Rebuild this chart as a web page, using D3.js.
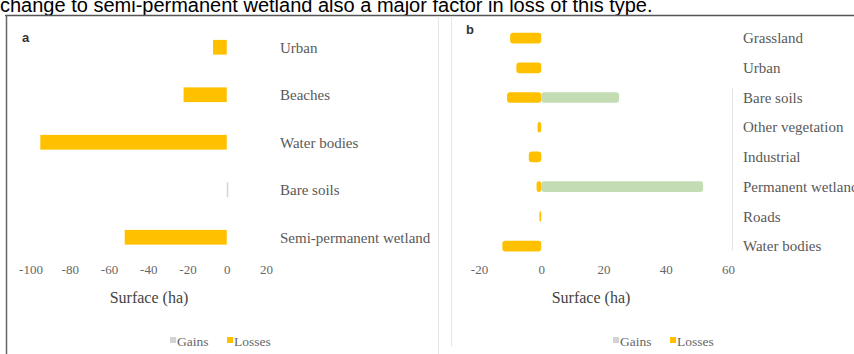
<!DOCTYPE html>
<html>
<head>
<meta charset="utf-8">
<script src="https://cdn.jsdelivr.net/npm/d3@7"></script>
<style>
  body { margin: 0; background: #fff; overflow: hidden; }
  svg { display: block; }
</style>
</head>
<body>
<script>
// panel a data
const catsA = ["Urban", "Beaches", "Water bodies", "Bare soils", "Semi-permanent wetland"];
const gainsA = [0, 0, 0, 0.8, 0];
const lossesA = [-7, -22, -95, 0, -52];
const ticksA = [-100, -80, -60, -40, -20, 0, 20];

// panel b data
const catsB = ["Grassland", "Urban", "Bare soils", "Other vegetation", "Industrial", "Permanent wetland", "Roads", "Water bodies"];
const gainsB = [0, 0, 25, 0, 0, 52, 0, 0];
const lossesB = [-10, -8, -11, -1.2, -4, -1.5, -0.6, -12.5];
const ticksB = [-20, 0, 20, 40, 60];

const legendItems = ["Gains", "Losses"];
const caption = "change to semi-permanent wetland also a major factor in loss of this type.";

const W = 854, H = 354;
const gold = "#ffc000", green = "#c3dcb3", legGrey = "#d3d3d3";
const serif = "'Liberation Serif', 'Times New Roman', 'DejaVu Serif', serif";

let svg = d3.select("body").append("svg").attr("width", W).attr("height", H);

// caption text, cut at the top like in the source
svg.append("text")
  .attr("x", 0).attr("y", 11.5)
  .style("font-family", "'Liberation Sans', Arial, sans-serif")
  .style("font-size", "20px")
  .attr("fill", "#000")
  .text(caption);

// frame lines
svg.append("line").attr("x1", 5).attr("x2", W).attr("y1", 15.5).attr("y2", 15.5)
  .attr("stroke", "#555").attr("stroke-width", 1.5);
svg.append("line").attr("x1", 6.5).attr("x2", 6.5).attr("y1", 15).attr("y2", H)
  .attr("stroke", "#666").attr("stroke-width", 1.5);
svg.append("line").attr("x1", 438.5).attr("x2", 438.5).attr("y1", 16).attr("y2", H)
  .attr("stroke", "#e6e6e6");
svg.append("line").attr("x1", 451.5).attr("x2", 451.5).attr("y1", 16).attr("y2", H - 8)
  .attr("stroke", "#e6e6e6");

function drawPanel(opt) {
  let g = svg.append("g");
  let x = d3.scaleLinear().domain(opt.domain).range(opt.xRange);
  let y = d3.scaleBand().domain(opt.cats).range(opt.yRange).paddingInner(opt.pad).paddingOuter(opt.pad / 2);

  let rows = opt.cats.map((c, i) => ({ cat: c, gain: opt.gains[i], loss: opt.losses[i] }));

  if (opt.axisLine) {
    g.append("line")
      .attr("x1", opt.axisLine.x).attr("x2", opt.axisLine.x)
      .attr("y1", opt.axisLine.y1).attr("y2", opt.axisLine.y2)
      .attr("stroke", "#e3e3e3");
  }

  // losses
  g.selectAll("rect.loss")
    .data(rows.filter(d => d.loss < 0))
    .join("rect")
    .attr("class", "loss")
    .attr("x", d => x(d.loss))
    .attr("width", d => Math.max(1.5, x(0) - x(d.loss)))
    .attr("y", d => y(d.cat))
    .attr("height", y.bandwidth())
    .attr("rx", opt.rx).attr("ry", opt.rx)
    .attr("fill", gold);

  // gains
  g.selectAll("rect.gain")
    .data(rows.filter(d => d.gain > 0))
    .join("rect")
    .attr("class", "gain")
    .attr("x", x(0))
    .attr("width", d => Math.max(1.5, x(d.gain) - x(0)))
    .attr("y", d => y(d.cat))
    .attr("height", y.bandwidth())
    .attr("rx", opt.rx).attr("ry", opt.rx)
    .attr("fill", opt.gainColor);

  // category labels
  g.selectAll("text.catlabel")
    .data(opt.cats)
    .join("text")
    .attr("class", "catlabel")
    .attr("x", opt.labelX)
    .attr("y", d => y(d) + y.bandwidth() / 2)
    .attr("dy", "0.35em")
    .style("font-family", serif)
    .style("font-size", "15px")
    .attr("fill", "#595959")
    .text(d => d);

  // x axis tick labels (plain hyphen minus like the source)
  let axis = d3.axisBottom(x).tickValues(opt.ticks).tickSize(0).tickPadding(0)
    .tickFormat(d => String(d));
  let ax = g.append("g").attr("transform", `translate(0,${opt.tickY})`).call(axis);
  ax.select(".domain").remove();
  ax.selectAll("text")
    .attr("fill", "#666")
    .style("font-family", serif)
    .style("font-size", "13px");

  g.append("text")
    .attr("x", opt.titleX).attr("y", opt.titleY)
    .attr("text-anchor", "middle")
    .style("font-family", serif)
    .style("font-size", "16px")
    .attr("fill", "#444")
    .text("Surface (ha)");

  // panel letter
  g.append("text")
    .attr("x", opt.letterX).attr("y", opt.letterY)
    .style("font-family", "'Liberation Sans', Arial, sans-serif")
    .style("font-size", "13px")
    .style("font-weight", "bold")
    .attr("fill", "#333")
    .text(opt.letter);

  // legend
  let lg = g.append("g").attr("transform", `translate(${opt.legX},${opt.legY})`);
  let legColors = [legGrey, gold];
  let offsets = [0, 57];
  legendItems.forEach((name, i) => {
    lg.append("rect").attr("x", offsets[i]).attr("y", -4).attr("width", 6).attr("height", 6)
      .attr("fill", legColors[i]);
    lg.append("text")
      .attr("x", offsets[i] + 7).attr("y", 0).attr("dy", "0.35em")
      .style("font-family", serif)
      .style("font-size", "13.5px")
      .attr("fill", "#666")
      .text(name);
  });
}

drawPanel({
  cats: catsA, gains: gainsA, losses: lossesA, ticks: ticksA,
  domain: [-100, 20], xRange: [30.5, 266],
  yRange: [23.5, 261], pad: 0.69, rx: 0,
  gainColor: "#d5d5d5",
  labelX: 280, tickY: 265, titleX: 149, titleY: 303,
  letter: "a", letterX: 22, letterY: 42,
  legX: 170, legY: 341
});

drawPanel({
  cats: catsB, gains: gainsB, losses: lossesB, ticks: ticksB,
  domain: [-20, 60], xRange: [479, 728],
  yRange: [23.2, 261], pad: 0.64, rx: 3,
  gainColor: green,
  labelX: 743, tickY: 265, titleX: 591, titleY: 303,
  letter: "b", letterX: 466, letterY: 34,
  legX: 613, legY: 341,
  axisLine: { x: 732.5, y1: 88, y2: 250 }
});
</script>
</body>
</html>
